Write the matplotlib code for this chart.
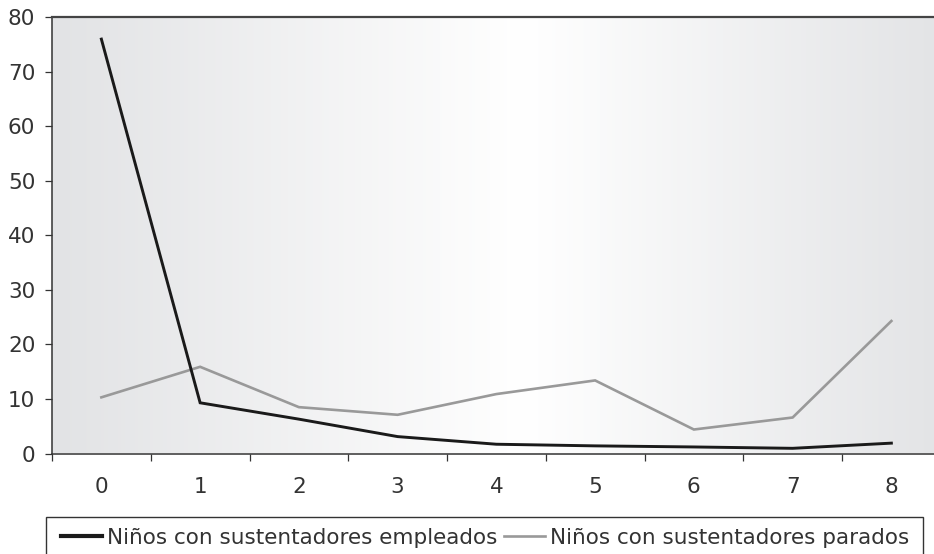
import matplotlib
matplotlib.use("Agg")
import matplotlib.pyplot as plt
import numpy as np
from matplotlib.colors import LinearSegmentedColormap
from matplotlib.patches import Rectangle
from matplotlib.lines import Line2D

categories = ["0", "1", "2", "3", "4", "5", "6", "7", "8"]
empleados = [76.0, 9.3, 6.3, 3.1, 1.7, 1.4, 1.2, 0.95, 1.9]
parados = [10.3, 15.9, 8.5, 7.1, 10.9, 13.4, 4.4, 6.6, 24.3]
label_empleados = "Niños con sustentadores empleados"
label_parados = "Niños con sustentadores parados"
yticks = [0, 10, 20, 30, 40, 50, 60, 70, 80]

W, H = 934, 554
fig = plt.figure(figsize=(W / 100, H / 100), dpi=100)
plt.rcParams['font.family'] = ['DejaVu Sans']
txt_color = "#333333"

left_px, right_px, top_px, bot_px = 52, 940.75, 17.3, 453.5
ax = fig.add_axes([left_px / W, 1 - bot_px / H, (right_px - left_px) / W, (bot_px - top_px) / H])

x = np.arange(len(categories))
ax.set_xlim(-0.5, len(categories) - 0.5)
ax.set_ylim(0, 80)

# gradient background
cmap = LinearSegmentedColormap.from_list(
    "bg", [(0.0, "#e2e3e5"), (0.53, "#ffffff"), (1.0, "#e3e4e6")])
grad = np.linspace(0, 1, 512).reshape(1, -1)
ax.imshow(grad, cmap=cmap, aspect="auto", extent=(-0.5, len(categories) - 0.5, 0, 80),
          zorder=0, interpolation="bilinear")

ax.plot(x, parados, color="#999999", lw=1.9, zorder=3, solid_joinstyle="miter")
ax.plot(x, empleados, color="#1a1a1a", lw=2.1, zorder=4, solid_joinstyle="miter")

for s in ["right"]:
    ax.spines[s].set_visible(False)
for s in ["left", "bottom", "top"]:
    ax.spines[s].set_color("#333333")
    ax.spines[s].set_linewidth(1.1)
ax.spines["top"].set_color("#444444")
ax.spines["top"].set_linewidth(1.6)

ax.set_yticks(yticks)
ax.set_yticklabels([str(v) for v in yticks])
ax.tick_params(axis="y", direction="out", length=5, width=0.9, color="#333333",
               labelsize=15.5, labelcolor=txt_color, pad=7)

ax.set_xticks(x)
ax.set_xticklabels(categories)
ax.set_xticks(np.arange(-0.5, len(categories) + 0.5, 1), minor=True)
ax.tick_params(axis="x", which="major", length=0, labelsize=15.5, labelcolor=txt_color, pad=17)
ax.tick_params(axis="x", which="minor", direction="out", length=5, width=0.9, color="#333333")

# legend frame
fig.patches.append(Rectangle((45.7 / W, 1 - 560 / H), (922.7 - 45.7) / W, (560 - 516.7) / H,
                             transform=fig.transFigure, fill=False, edgecolor="#333333",
                             linewidth=1.0, clip_on=False))
handles = [Line2D([], [], color="#1a1a1a", lw=3.0),
           Line2D([], [], color="#999999", lw=1.9)]
leg = fig.legend(handles, [label_empleados, label_parados], loc="center left",
                 bbox_to_anchor=(60.7 / W - 0.0, 1 - 538 / H), bbox_transform=fig.transFigure,
                 ncol=2, frameon=False, fontsize=15.5, handlelength=1.9, handletextpad=0.25,
                 columnspacing=0.3, borderpad=0, borderaxespad=0)
for t in leg.get_texts():
    t.set_color(txt_color)

fig.savefig("out.png", dpi=100)
